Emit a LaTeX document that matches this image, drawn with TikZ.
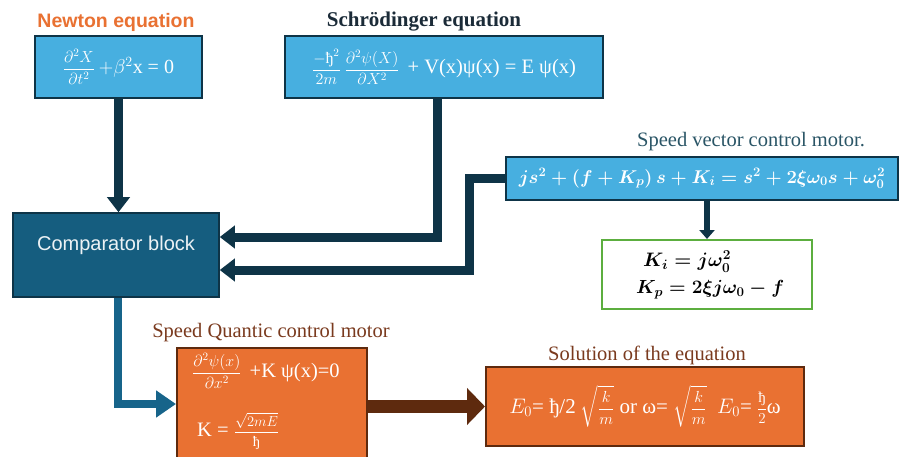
\RequirePackage{fix-cm}
\documentclass[tikz,border=0pt]{standalone}
\usepackage{amsmath}
\usepackage{fontspec}
\setmainfont{Liberation Serif}
\setsansfont{Liberation Sans}
\usetikzlibrary{arrows.meta}
\definecolor{lblue}{HTML}{47AFE0}
\definecolor{navy}{HTML}{0E3447}
\definecolor{compteal}{HTML}{155D7F}
\definecolor{midblue}{HTML}{17648A}
\definecolor{orng}{HTML}{E97132}
\definecolor{brwn}{HTML}{5E2A0E}
\definecolor{tbrown}{HTML}{7A3A1E}
\definecolor{grn}{HTML}{5CAE3F}
\definecolor{svtitle}{HTML}{2A5566}
\definecolor{stitle}{HTML}{1B2B38}
\tikzset{
  bluebox/.style={draw=navy, line width=2pt, fill=lblue, text=white, inner sep=0pt},
  compbox/.style={draw=navy, line width=1.5pt, fill=compteal, inner sep=0pt},
  orgbox/.style={draw=brwn, line width=2pt, fill=orng, text=white, inner sep=0pt},
  grnbox/.style={draw=grn, line width=2pt, fill=white, inner sep=0pt},
  title/.style={inner sep=0pt, font=\fontsize{20.5}{24}\selectfont},
  eq/.style={inner sep=0pt, text=white},
  bigarrow/.style={navy, line width=9pt, -{Triangle[width=22pt,length=15pt]}},
}
\newcommand{\fs}[1]{\fontsize{#1}{#1}\selectfont}
\begin{document}
\begin{tikzpicture}[x=1pt,y=-1pt]
\clip (0,0) rectangle (899,457);
\fill[white] (0,0) rectangle (899,457);

% titles
\node[title, text=orng, font=\sffamily\bfseries\fs{19.5}] (tnewton) at (116,22) {Newton equation};
\node[title, text=stitle, font=\bfseries\fs{21}] (tschr) at (424,22) {Schrödinger equation};
\node[title, text=svtitle] (tsv) at (751,142) {Speed vector control motor.};
\node[title, text=tbrown] (tsq) at (271,333) {Speed Quantic control motor};
\node[title, text=tbrown] (tsol) at (647,355) {Solution of the equation};

% boxes
\node[bluebox, minimum width=167pt, minimum height=62pt] (newton) at (118.5,67)
  {\fs{16}$\dfrac{\partial^2X}{\partial t^2}$\ \fs{20}$+\beta^2$x = 0};
\node[bluebox, minimum width=318pt, minimum height=62pt] (schr) at (444,67)
  {\fs{16}$\dfrac{-\text{ђ}^2}{2m}$\ $\dfrac{\partial^2\psi(X)}{\partial X^2}$\ \ \fs{20.5}+ V(x)ψ(x) = E ψ(x)};
\node[compbox, minimum width=206pt, minimum height=84pt] (comp) at (116,255) {};
\node[text=white!92!compteal, font=\sffamily\fs{20}, inner sep=0pt] (ctext) at (116,245) {Comparator block};
\node[bluebox, minimum width=392pt, minimum height=43pt] (sv) at (702,178.5)
  {\fs{18.5}$\boldsymbol{js^2+\left(f+K_p\right)s+K_i=s^2+2\xi\omega_0 s+\omega_0^2}$};
\node[grnbox, minimum width=210pt, minimum height=69pt] (green) at (707,274.5) {};
\node[inner sep=0pt, anchor=west, font=\fs{19.5}] (g1) at (643,262) {$\boldsymbol{K_i = j\omega_0^2}$};
\node[inner sep=0pt, anchor=west, font=\fs{19}] (g2) at (636,290) {$\boldsymbol{K_p = 2\xi j\omega_0 - f}$};
\node[orgbox, minimum width=190pt, minimum height=112pt] (orange) at (272,404) {};
\node[eq, anchor=west] (o1) at (192,371)
  {\fs{16}$\dfrac{\partial^2\psi(x)}{\partial x^2}$\ \ \fs{20.5}+K ψ(x)=0};
\node[eq, anchor=west] (o2) at (197,431)
  {\fs{20.5}K = \fs{14.5}$\dfrac{\sqrt{2mE}}{\text{ђ}}$};
\node[orgbox, minimum width=318pt, minimum height=79pt] (sol) at (645,406.5)
  {\fs{21}$E_0$= ђ/2 {\fs{16}$\sqrt{\dfrac{k}{m}}$} or ω= {\fs{16}$\sqrt{\dfrac{k}{m}}$}\ \ $E_0$= {\fs{15}$\dfrac{\text{ђ}}{2}$}ω};

% connectors
\draw[bigarrow] (newton.south) -- (newton.south |- comp.north);
\draw[bigarrow] ([xshift=-7pt]schr.south) |- ([yshift=18pt]comp.east);
\draw[bigarrow] (sv.west) -- ++(-36,0) |- ([yshift=-15pt]comp.east);
\draw[navy, line width=6pt, -{Triangle[width=15pt,length=9pt]}] (green.north |- sv.south) -- (green.north);
\draw[midblue, line width=8pt, -{Triangle[width=26pt,length=20pt]}] ([xshift=2pt]comp.south) |- (orange.west);
\draw[brwn, line width=13pt, -{Triangle[width=36pt,length=18pt]}] (orange.east |- sol.west) -- (sol.west);
\end{tikzpicture}
\end{document}
